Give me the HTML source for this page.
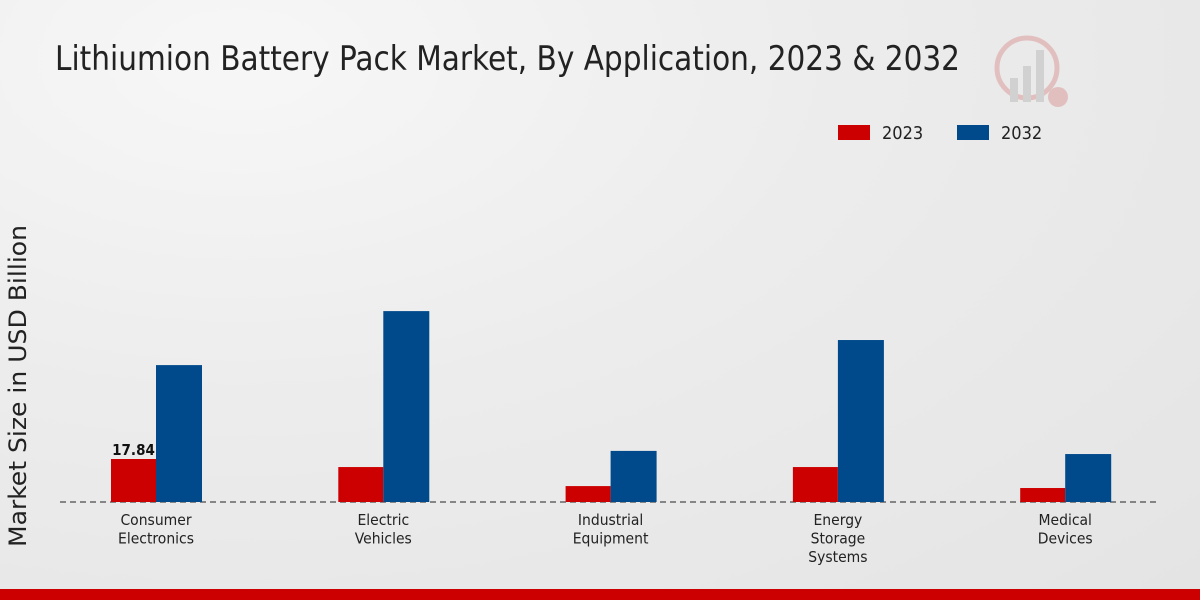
<!DOCTYPE html>
<html><head><meta charset="utf-8"><style>
body{margin:0;width:1200px;height:600px;overflow:hidden;font-family:"DejaVu Sans Condensed","Liberation Sans Narrow","Liberation Sans",sans-serif;}
#bg{position:absolute;left:0;top:0;width:1200px;height:600px;background:radial-gradient(ellipse at 20% 10%,#f7f7f7 0%,#ececec 45%,#e4e4e4 100%);}
svg{position:absolute;left:0;top:0}
</style></head><body>
<div id="bg"></div>
<svg id="chart" width="1200" height="600">
<text x="55" y="70" font-size="34" fill="#222" textLength="905" lengthAdjust="spacingAndGlyphs">Lithiumion Battery Pack Market, By Application, 2023 &amp; 2032</text>
<text transform="translate(26,386) rotate(-90)" text-anchor="middle" font-size="24" fill="#222" textLength="322" lengthAdjust="spacingAndGlyphs">Market Size in USD Billion</text>
<g>
<rect x="838" y="125" width="32" height="15" fill="#cc0000"></rect>
<text x="882" y="139" font-size="18" fill="#222">2023</text>
<rect x="957" y="125" width="32" height="15" fill="#004a8c"></rect>
<text x="1001" y="139" font-size="18" fill="#222">2032</text>
</g>
<g opacity="0.25">
<circle cx="1027" cy="68" r="30" fill="none" stroke="#c44" stroke-width="5"></circle>
<circle cx="1058" cy="97" r="10" fill="#c44"></circle>
<rect x="1010" y="78" width="8" height="24" fill="#888"></rect>
<rect x="1023" y="66" width="8" height="36" fill="#888"></rect>
<rect x="1036" y="50" width="8" height="52" fill="#888"></rect>
</g>
<line x1="60" y1="502" x2="1160" y2="502" stroke="#222" stroke-dasharray="6,4"></line>
<g id="bars"></g>
<rect x="0" y="589" width="1200" height="11" fill="#cc0000"></rect>
</svg>
<script>
const categories=[["Consumer","Electronics"],["Electric","Vehicles"],["Industrial","Equipment"],["Energy","Storage","Systems"],["Medical","Devices"]];
const values2023=[17.84,14.5,6.6,14.5,5.8];
const values2032=[56.8,79.2,21.2,67.2,19.9];
const NS="http://www.w3.org/2000/svg";
const g=document.getElementById('bars');
const base=502, pxPer=43/17.84;
const y=v=>base-v*pxPer;
const xc=i=>156+i*227.3;
function mk(t,a){const e=document.createElementNS(NS,t);for(const k in a)e.setAttribute(k,a[k]);g.appendChild(e);return e;}
categories.forEach((c,i)=>{
  const r=mk('rect',{x:xc(i)-45,y:y(values2023[i]),width:45,height:base-y(values2023[i]),fill:'#cc0000'});
  
  
  const b=mk('rect',{x:xc(i),y:y(values2032[i]),width:46,height:base-y(values2032[i]),fill:'#004a8c'});
  
  
  c.forEach((line,j)=>{
    const t=mk('text',{x:xc(i),y:525+j*18.5,'text-anchor':'middle','font-size':15.5,fill:'#222'});
    t.textContent=line;
    
    
  });
});
const lab=mk('text',{x:xc(0)-22.5,y:y(values2023[0])-4,'text-anchor':'middle','font-size':15,'font-weight':'bold',fill:'#111'});
lab.textContent=values2023[0].toFixed(2);


</script>
</body></html>
